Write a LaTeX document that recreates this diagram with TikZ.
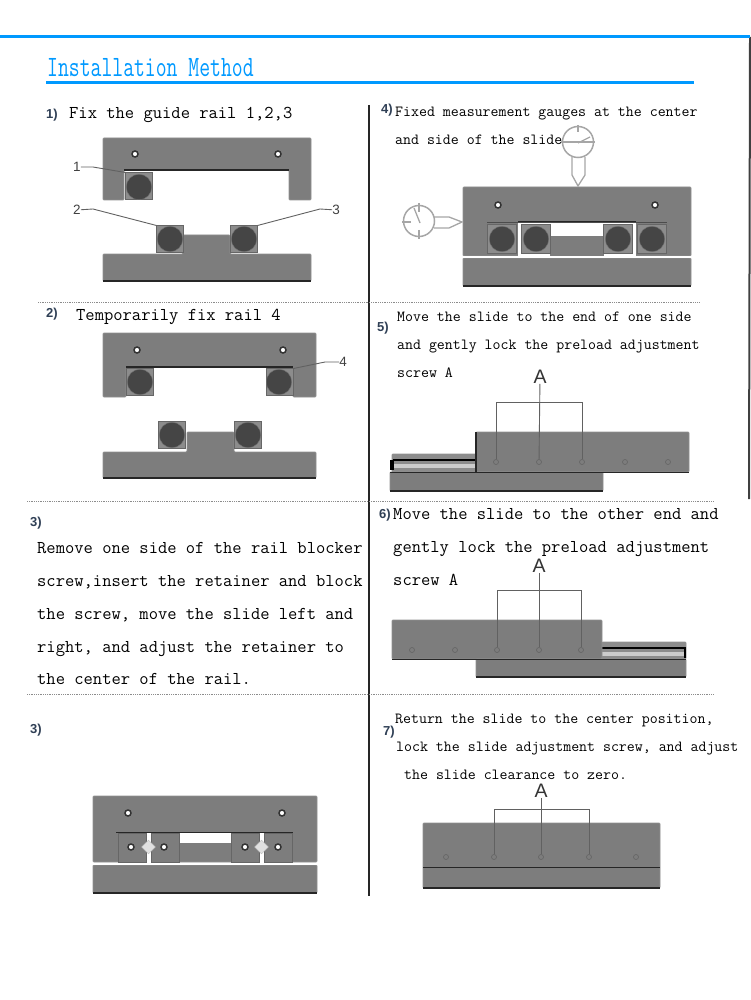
\documentclass[tikz,border=0pt]{standalone}
\usepackage{fontspec}
\usetikzlibrary{shapes.geometric}
\setsansfont{Liberation Sans}
\definecolor{titleblue}{HTML}{0099FF}
\definecolor{platefill}{HTML}{7D7D7D}
\definecolor{railfill}{HTML}{8C8C8C}
\definecolor{rollerfill}{HTML}{454545}
\definecolor{numink}{HTML}{2F3F55}
\begin{document}
\begin{tikzpicture}[x=1pt,y=-1pt]
    % Style definition for the drawn parts
    \tikzset{plate/.style={fill=platefill, draw=platefill!85!white, line width=.8pt, rounded corners=1pt},
             railbox/.style={rectangle, fill=railfill, draw=black!60, line width=.5pt, minimum size=27pt, inner sep=0pt, outer sep=0pt},
             roller/.style={circle, fill=rollerfill, draw=black!55, line width=.4pt, minimum size=25.5pt, inner sep=0pt},
             hole/.style={circle, fill=white, draw=black!80, line width=1.5pt, minimum size=6pt, inner sep=0pt},
             pinhole/.style={circle, draw=black!60, fill=platefill, line width=.7pt, minimum size=5pt, inner sep=0pt},
             pindiamond/.style={diamond, fill=black!12, draw=black!25, line width=.4pt, minimum size=14pt, inner sep=0pt},
             leader/.style={draw=black!62, line width=.9pt},
             gaugeface/.style={circle, draw=black!35, fill=white, line width=1.5pt, minimum size=31pt, inner sep=0pt},
             gaugeline/.style={draw=black!35, line width=1.3pt},
             separator/.style={draw=black!45, line width=.8pt, densely dotted},
             numlabel/.style={font=\sffamily\fontsize{13}{13}\selectfont\bfseries, text=numink, inner sep=0pt},
             calllabel/.style={font=\sffamily\fontsize{13.5}{14}\selectfont, text=black!75, inner sep=0pt},
             letterlabel/.style={font=\sffamily\fontsize{19.5}{20}\selectfont, text=black!80, inner sep=0pt},
             smalltext/.style={font=\ttfamily\fontsize{15.45}{16}\selectfont, anchor=base west, inner sep=0pt},
             bigtext/.style={font=\ttfamily\fontsize{18.05}{19}\selectfont, anchor=base west, inner sep=0pt}}
    \tikzstyle{edgedark} = [draw=black!85, line width=1.2pt]
    \useasboundingbox (0,0) rectangle (750,1000);

    % Frame and separators
    \coordinate (frameL) at (0,37);
    \coordinate (frameR) at (750,37);
    \coordinate (sideEnd) at (749,499);
    \coordinate (midTop) at (369,105);
    \coordinate (midEnd) at (369,896);
    \draw [draw=black!75, line width=2pt] (frameR) -- (sideEnd);
    \draw [draw=black!85, line width=1.1pt] (midTop) -- (midEnd);
    \draw [draw=titleblue, line width=3pt] (frameL) -- (frameR);
    \coordinate (sepA1) at (38,302);
    \coordinate (sepA2) at (700,302);
    \coordinate (sepB1) at (27,501);
    \coordinate (sepB2) at (713,501);
    \coordinate (sepC1) at (27,694);
    \coordinate (sepC2) at (713,694);
    \draw [separator] (sepA1) -- (sepA2);
    \draw [separator] (sepB1) -- (sepB2);
    \draw [separator] (sepC1) -- (sepC2);

    % Title
    \node (title) [font=\ttfamily\fontsize{21.1}{22}\selectfont, text=titleblue, anchor=base west, inner sep=0pt] at (47,77) {\scalebox{1}[1.4]{Installation Method}};
    \coordinate (ruleL) at (46,83);
    \coordinate (ruleR) at (694,83);
    \draw [draw=titleblue, line width=3pt] (ruleL) -- (ruleR);

    % Step texts
    \node (num1) [numlabel] at (52,115) {1)};
    \node (text1) [bigtext] at (69,119) {Fix the guide rail 1,2,3};
    \node (num2) [numlabel] at (52,314) {2)};
    \node (text2) [bigtext] at (76,320) {Temporarily fix rail 4};
    \node (num3) [numlabel] at (36,523) {3)};
    \node (text3a) [bigtext] at (37,553) {Remove one side of the rail blocker};
    \node (text3b) [bigtext] at (37,586) {screw,insert the retainer and block};
    \node (text3c) [bigtext] at (37,619) {the screw, move the slide left and};
    \node (text3d) [bigtext] at (37,652) {right, and adjust the retainer to};
    \node (text3e) [bigtext] at (37,684) {the center of the rail.};
    \node (num3b) [numlabel] at (36,730) {3)};
    \node (num4) [numlabel] at (387,110) {4)};
    \node (text4a) [smalltext] at (395,117) {Fixed measurement gauges at the center};
    \node (text4b) [smalltext] at (395,145) {and side of the slide};
    \node (num5) [numlabel] at (383,328) {5)};
    \node (text5a) [smalltext] at (397,321) {Move the slide to the end of one side};
    \node (text5b) [smalltext] at (397,349) {and gently lock the preload adjustment};
    \node (text5c) [smalltext] at (397,377) {screw A};
    \node (num6) [numlabel] at (385,515) {6)};
    \node (text6a) [bigtext] at (393,519) {Move the slide to the other end and};
    \node (text6b) [bigtext] at (393,552) {gently lock the preload adjustment};
    \node (text6c) [bigtext] at (393,585) {screw A};
    \node (num7) [numlabel] at (389,732) {7)};
    \node (text7a) [smalltext] at (395,723) {Return the slide to the center position,};
    \node (text7b) [smalltext] at (396,751) {lock the slide adjustment screw, and adjust};
    \node (text7c) [smalltext] at (404,779) {the slide clearance to zero.};

    % Step 1 - slide with one rail, base with two rails
    \draw [plate] (103,138) -- (311,138) -- (311,200) -- (289,200) -- (289,170) -- (124,170) -- (124,200) -- (103,200) -- cycle;
    \draw [edgedark] (124,170) -- (289,170);
    \draw [plate] (103,254) -- (183,254) -- (183,235) -- (230,235) -- (230,254) -- (311,254) -- (311,281) -- (103,281) -- cycle;
    \draw [edgedark] (103,281) -- (311,281);
    \node (rail1) [railbox] at (139,186) {};
    \node (rail2) [railbox] at (170,239) {};
    \node (rail3) [railbox] at (244,239) {};
    \node (roller1) [roller] at (139,187) {};
    \node (roller2) [roller] at (170,239) {};
    \node (roller3) [roller] at (244,239) {};
    \node (hole1a) [hole] at (135,154) {};
    \node (hole1b) [hole] at (278,154) {};
    \node (call1) [calllabel] at (77,167) {1};
    \node (call2) [calllabel] at (77,210) {2};
    \node (call3) [calllabel] at (336,210) {3};
    \draw [leader] (call1) -- (93,167) -- (rail1.north west);
    \draw [leader] (call2) -- (93,209) -- (rail2.north west);
    \draw [leader] (call3) -- (320,209) -- (rail3.north east);

    % Step 2 - rail 4 added
    \draw [plate] (103,333) -- (316,333) -- (316,397) -- (293,397) -- (293,367) -- (126,367) -- (126,397) -- (103,397) -- cycle;
    \draw [edgedark] (126,367) -- (293,367);
    \draw [plate] (103,452) -- (187,452) -- (187,432) -- (234,432) -- (234,452) -- (316,452) -- (316,478) -- (103,478) -- cycle;
    \draw [edgedark] (103,478) -- (316,478);
    \node (rail1s) [railbox] at (140,382) {};
    \node (rail4) [railbox] at (280,382) {};
    \node (rail2s) [railbox] at (172,435) {};
    \node (rail3s) [railbox] at (248,435) {};
    \node (roller1s) [roller] at (140,382) {};
    \node (roller4) [roller] at (279,382) {};
    \node (roller2s) [roller] at (172,435) {};
    \node (roller3s) [roller] at (248,435) {};
    \node (hole2a) [hole] at (137,350) {};
    \node (hole2b) [hole] at (283,350) {};
    \node (call4) [calllabel] at (343,362) {4};
    \draw [leader] (call4) -- (325,362) -- (rail4.north east);

    % Step 4 - gauges on the assembled slide
    \draw [plate] (463,187) -- (691,187) -- (691,256) -- (463,256) -- cycle;
    \draw [plate] (463,258) -- (691,258) -- (691,286) -- (463,286) -- cycle;
    \draw [edgedark] (463,286) -- (691,286);
    \fill [white] (518,223) rectangle (636,257);
    \draw [edgedark] (518,222) -- (636,222);
    \draw [draw=black!70, line width=.7pt] (487,222) -- (667,222);
    \fill [platefill] (550,236) rectangle (604,258);
    \fill [white] (463,256) rectangle (691,258);
    \node (rail4a) [railbox, minimum size=29pt] at (502,239) {};
    \node (rail4b) [railbox, minimum size=29pt] at (536,239) {};
    \node (rail4c) [railbox, minimum size=29pt] at (618,239) {};
    \node (rail4d) [railbox, minimum size=29pt] at (652,239) {};
    \node (roller4a) [roller] at (502,239) {};
    \node (roller4b) [roller] at (536,239) {};
    \node (roller4c) [roller] at (618,239) {};
    \node (roller4d) [roller] at (652,239) {};
    \node (hole4a) [hole] at (498,205) {};
    \node (hole4b) [hole] at (655,205) {};
    \node (gaugeT) [gaugeface] at (578,142) {};
    \node (gaugeL) [gaugeface] at (419,221) {};
    \coordinate (tipT) at (578,186);
    \coordinate (tipL) at (462,222);
    \draw [gaugeline] (572,157) -- (572,175) -- (tipT) -- (585,175) -- (585,157);
    \draw [gaugeline] (434,217) -- (449,217) -- (tipL) -- (449,228) -- (434,228);
    \draw [gaugeline] (561,142) -- (595,142);
    \draw [gaugeline] (578,125) -- (578,132);
    \draw [gaugeline] (578,143) -- (590,137);
    \draw [gaugeline] (419,203) -- (419,212);
    \draw [gaugeline] (419,230) -- (419,239);
    \draw [gaugeline] (402,222) -- (411,222);
    \draw [gaugeline] (420,223) -- (414,208);

    % Step 5 - slide moved right
    \draw [plate, fill=railfill] (392,454) rectangle (476,472);
    \fill [black] (393,459) rectangle (476,461);
    \fill [black!20] (393,464) rectangle (476,468);
    \fill [black] (390,460) rectangle (394,470);
    \draw [plate] (476,432) -- (689,432) -- (689,472) -- (476,472) -- cycle;
    \draw [plate] (390,472) -- (603,472) -- (603,491) -- (390,491) -- cycle;
    \draw [edgedark] (476,432) -- (476,472);
    \draw [edgedark] (390,491) -- (603,491);
    \draw [edgedark, line width=.7pt] (390,472) -- (689,472);
    \node (pin5a) [pinhole] at (496,462) {};
    \node (pin5b) [pinhole] at (539,462) {};
    \node (pin5c) [pinhole] at (582,462) {};
    \node (pin5d) [pinhole] at (625,462) {};
    \node (pin5e) [pinhole] at (668,462) {};
    \node (letter5) [letterlabel] at (540,377) {A};
    \coordinate (bar5) at (496,402);
    \draw [leader] (pin5a) -- (bar5) -| (pin5c);
    \draw [leader] (letter5) -- (pin5b);

    % Step 6 - slide moved left
    \draw [plate, fill=railfill] (602,642) rectangle (686,659);
    \fill [black] (602,647) rectangle (685,649);
    \fill [black!20] (602,652) rectangle (684,656);
    \fill [black] (684,647) rectangle (686,658);
    \draw [plate] (392,620) -- (602,620) -- (602,659) -- (392,659) -- cycle;
    \draw [plate] (476,659) -- (686,659) -- (686,677) -- (476,677) -- cycle;
    \draw [edgedark] (476,677) -- (686,677);
    \draw [edgedark, line width=.7pt] (392,659) -- (686,659);
    \node (pin6a) [pinhole] at (412,650) {};
    \node (pin6b) [pinhole] at (455,650) {};
    \node (pin6c) [pinhole] at (497,650) {};
    \node (pin6d) [pinhole] at (539,650) {};
    \node (pin6e) [pinhole] at (581,650) {};
    \node (letter6) [letterlabel] at (539,566) {A};
    \coordinate (bar6) at (497,590);
    \draw [leader] (pin6c) -- (bar6) -| (pin6e);
    \draw [leader] (letter6) -- (pin6d);

    % Step 7 - slide at the center
    \draw [plate] (423,823) -- (660,823) -- (660,888) -- (423,888) -- cycle;
    \draw [edgedark] (423,888) -- (660,888);
    \draw [edgedark, line width=.8pt] (423,867) -- (660,867);
    \node (pin7a) [pinhole] at (446,857) {};
    \node (pin7b) [pinhole] at (494,857) {};
    \node (pin7c) [pinhole] at (541,857) {};
    \node (pin7d) [pinhole] at (589,857) {};
    \node (pin7e) [pinhole] at (636,857) {};
    \node (letter7) [letterlabel] at (541,791) {A};
    \coordinate (bar7) at (494,809);
    \draw [leader] (pin7b) -- (bar7) -| (pin7d);
    \draw [leader] (letter7) -- (pin7c);

    % Step 3 - retainers between the rails
    \draw [plate] (93,796) -- (317,796) -- (317,862) -- (93,862) -- cycle;
    \draw [plate] (93,865) -- (317,865) -- (317,893) -- (93,893) -- cycle;
    \draw [edgedark] (93,893) -- (317,893);
    \fill [white] (93,862.5) rectangle (317,864.5);
    \draw [edgedark, line width=.7pt] (116,832) -- (293,832);
    \fill [white] (179,833) rectangle (231,843);
    \node (block3a) [railbox, fill=platefill, minimum width=28pt, minimum height=29pt] at (132,848) {};
    \node (block3b) [railbox, fill=platefill, minimum width=28pt, minimum height=29pt] at (165,848) {};
    \node (block3c) [railbox, fill=platefill, minimum width=28pt, minimum height=29pt] at (245,848) {};
    \node (block3d) [railbox, fill=platefill, minimum width=28pt, minimum height=29pt] at (278,848) {};
    \fill [white] (146.5,833) rectangle (150.5,864);
    \fill [white] (259.5,833) rectangle (263.5,864);
    \node (diamond3a) [pindiamond] at (148.5,847) {};
    \node (diamond3b) [pindiamond] at (261.5,847) {};
    \node (hole3a) [hole] at (128,813) {};
    \node (hole3b) [hole] at (282,813) {};
    \node (hole3c) [hole] at (131,847) {};
    \node (hole3d) [hole] at (164,847) {};
    \node (hole3e) [hole] at (245,847) {};
    \node (hole3f) [hole] at (278,847) {};

\end{tikzpicture}
\end{document}
